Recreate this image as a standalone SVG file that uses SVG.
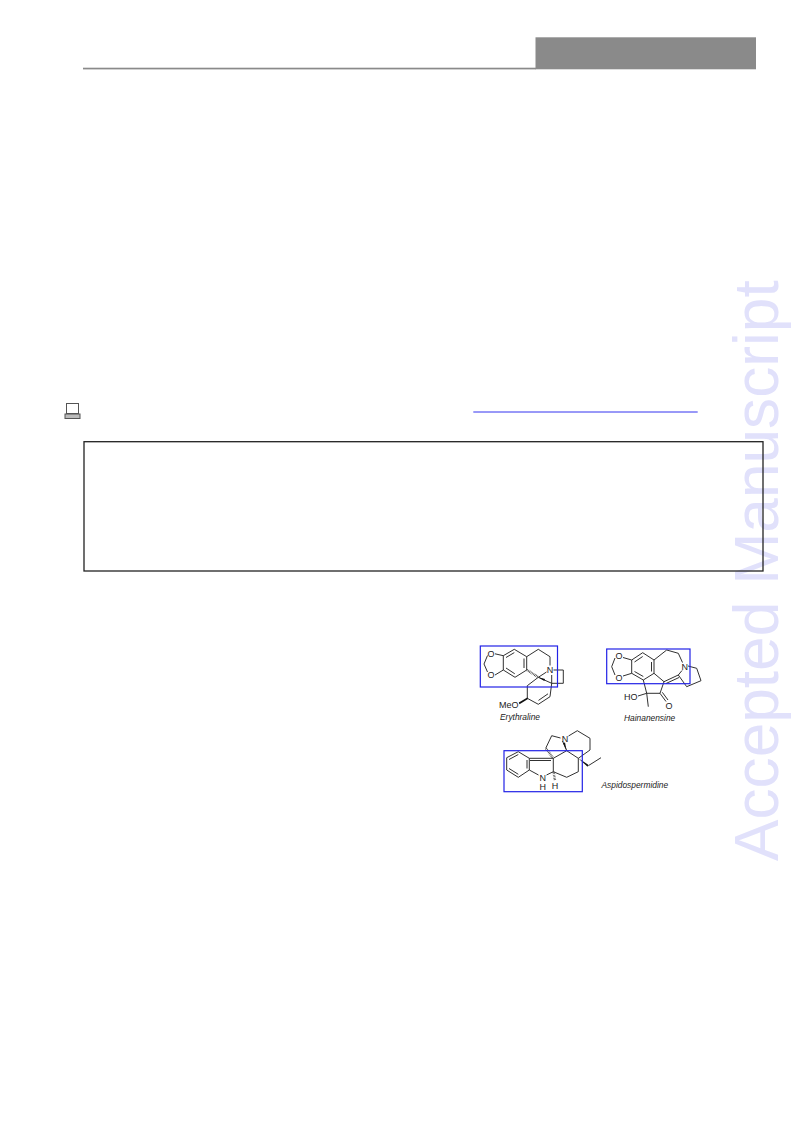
<svg xmlns="http://www.w3.org/2000/svg" width="793" height="1121" viewBox="0 0 793 1121">
<style>
text{font-family:"Liberation Sans",Arial,sans-serif;fill:#222}
.b{fill:none;stroke:#1a1a1a;stroke-width:.9;stroke-linejoin:round}
.h{fill:none;stroke:#1a1a1a;stroke-width:2.4;stroke-dasharray:.6 .9}
.w{fill:#111;stroke:none}
.sel{fill:none;stroke:#2222e6;stroke-width:1.2}
.a{font-size:9px;text-anchor:middle}
.n{font-size:8.4px;font-style:italic}
</style>
<rect width="793" height="1121" fill="#fff"/>
<g id="watermark"><text transform="translate(778 861) rotate(-90)" font-size="62.2" style="fill:#e1e1fb">Accepted Manuscript</text></g>
<g id="header">
<rect x="83" y="67.7" width="453" height="1.7" fill="#8a8a8a"/>
<rect x="535.5" y="37.3" width="220.5" height="32" fill="#8a8a8a"/>
</g>
<g id="laptop-icon" fill="none" stroke="#555" stroke-width="1">
<rect x="66.5" y="403.5" width="12" height="10" fill="#fff"/>
<rect x="65" y="414" width="15" height="4.5" fill="#bbb"/>
</g>
<g id="link"><line x1="473.3" y1="412" x2="697.7" y2="412" stroke="#3333f0" stroke-width="1"/></g>
<g id="abstract-box"><rect x="84" y="441.7" width="679" height="129.3" fill="none" stroke="#222" stroke-width="1.3"/></g>

<g id="erythraline">
<path class="b" d="M503.3 655.7L514.3 649.3L526.7 656.7V670L515 677.3L503.3 670ZM506 657.5L514.3 652.6M524 658.5V668M506 668L514.8 673.8M503.3 655.7L495 653.8M487.5 655.5L484 664L487.5 672M495 675L503.3 670M526.7 656.7L538.3 649.3L550 656.7V665.5M538.3 677.3L546.5 672M553.5 670H563.3V683.3H551.7L538.3 677.3M551.7 683.3L550 696.7L538.3 704.3L527.3 698.3V685.7L538.3 677.3M548 693.8L538.5 700.4M551.7 675V683.3"/>
<line class="h" x1="527" y1="670" x2="538" y2="677"/>
<polygon class="w" points="527.3,697.6 528,699 519.5,704.3 518.8,702.5"/>
<polygon class="w" points="538.3,677.3 545,679 544.3,681"/>
<text class="a" x="491" y="656.5">O</text><text class="a" x="491" y="677.5">O</text><text class="a" x="550" y="673.3">N</text>
<text x="499" y="708" font-size="9">MeO</text>
<text class="n" x="500" y="719.5">Erythraline</text>
<rect class="sel" x="480.3" y="646" width="77.2" height="41"/>
</g>

<g id="hainanensine">
<path class="b" d="M631.7 660L642.7 652.7L654 660V673.3L643.3 680L631.7 673.3ZM634.5 662L642.7 656.5M651.5 662V671.5M634.5 671.5L643.3 676.5M631.7 660L623 657.5M615 658L611.7 666.7L615 675M623 676L631.7 673.3M654 660L666.7 650L678.3 653.3L682.5 662.5M654 673.3L664 681.7L678.3 675L682 670.5M666 683.5L679 677.5M678.3 675L686.7 686.7L701 680.7L696.7 668.3L688 666M664 681.7L660 693.3L646.7 693.3L643.3 680M646.7 693.3L648.3 706.7M638 696L646.7 693.3M660 693.3L666 701.5M662.3 692.3L668 700"/>
<text class="a" x="619" y="659">O</text><text class="a" x="619" y="680.5">O</text><text class="a" x="684.7" y="670">N</text><text class="a" x="669" y="708.5">O</text>
<text x="624" y="699.5" font-size="9">HO</text>
<text class="n" x="624" y="721">Hainanensine</text>
<rect class="sel" x="606.7" y="649" width="83.3" height="34.7"/>
</g>

<g id="aspidospermidine">
<path class="b" d="M506.7 757.7L518.3 751.7L529.3 758.3V770L518.3 777.3L506.7 770ZM509 759.5L518.3 754.5M527 760V768.5M509 768.5L518.3 774.3M529.3 770L538.5 775M546.5 775L553.3 771.7V758.3L566.7 750.7L578.3 758.3V771.7L566.7 777.3L553.3 771.7M529.3 758.3H553.3M530 760.5H551M562.5 741L566.7 750.7M578.3 758.3L590 750V738.3L577.3 730.7L568.5 736M560.5 738L551.7 735.7L545.7 748.3"/>
<line class="h" x1="546" y1="748.5" x2="553" y2="758"/>
<line class="h" x1="553.5" y1="772" x2="555" y2="780"/>
<polygon class="w" points="566.7,750.7 563,743 565,742.5"/>
<polygon class="w" points="578.3,758.3 588.3,764.7 587.6,766.8"/>
<path class="b" d="M588.3 765.7L601 757.7"/>
<text class="a" x="565" y="741.5">N</text><text class="a" x="542.7" y="780.5">N</text>
<text class="a" x="542.7" y="790">H</text><text class="a" x="555" y="789">H</text>
<text class="n" x="601.5" y="787.5">Aspidospermidine</text>
<rect class="sel" x="504" y="750.7" width="78.3" height="41"/>
</g>
</svg>
